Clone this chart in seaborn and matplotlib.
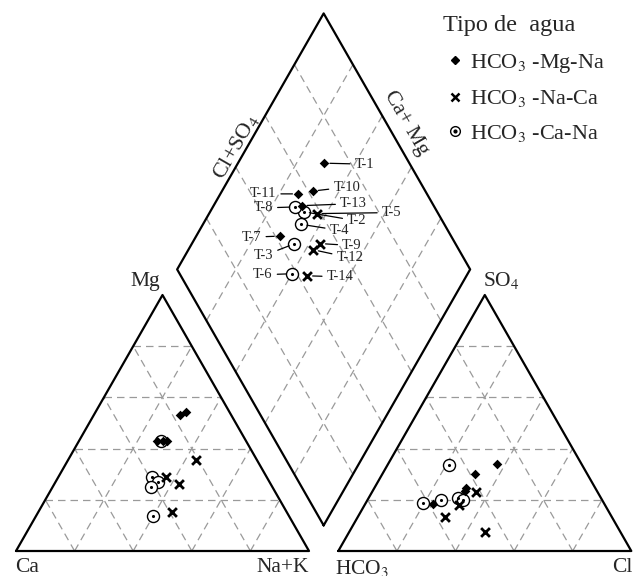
import numpy as np
import pandas as pd
import seaborn as sns
import matplotlib.pyplot as plt
from matplotlib.lines import Line2D

# muestras y tipo de agua
muestras = ['T-1', 'T-2', 'T-3', 'T-4', 'T-5', 'T-6', 'T-7',
            'T-8', 'T-9', 'T-10', 'T-11', 'T-12', 'T-13', 'T-14']
tipo = ['Mg-Na', 'Ca-Na', 'Ca-Na', 'Ca-Na', 'Na-Ca', 'Ca-Na', 'Mg-Na',
        'Ca-Na', 'Na-Ca', 'Mg-Na', 'Mg-Na', 'Na-Ca', 'Mg-Na', 'Na-Ca']

# cationes (% meq)
ca = [17.5, 39.0, 38.0, 41.4, 34.3, 46.3, 28.5, 28.9, 20.8, 14.7, 30.5, 31.3, 27.0, 39.2]
mg = [53.0, 29.0, 27.0, 25.0, 29.0, 13.7, 43.0, 43.0, 35.5, 54.3, 43.0, 26.2, 43.0, 15.2]
nak = [29.5, 32.0, 35.0, 33.6, 36.7, 40.0, 28.5, 28.1, 43.7, 31.0, 26.5, 42.5, 30.0, 45.6]

# aniones (% meq)
hco3 = [29.0, 45.5, 55.0, 48.8, 41.5, 61.7, 58.5, 47.5, 46.2, 38.4, 44.0, 49.8, 45.1, 56.9]
so4 = [34.0, 33.5, 20.0, 20.7, 23.0, 18.8, 18.4, 20.0, 7.4, 30.0, 24.6, 18.0, 23.4, 13.3]
cl = [37.0, 21.0, 25.0, 30.5, 35.5, 19.5, 23.1, 32.5, 46.4, 31.6, 31.4, 32.2, 31.5, 29.8]

# posicion de las etiquetas (pixeles respecto al punto)
offsets = {'T-1': (40, -1), 'T-2': (53, -9), 'T-3': (-31, -12), 'T-4': (38, -6),
           'T-5': (75, 1), 'T-6': (-29, -1), 'T-7': (-28, -1), 'T-8': (-32, -1),
           'T-9': (32, -2), 'T-10': (34, 4), 'T-11': (-35, 0), 'T-12': (37, -8),
           'T-13': (52, 2), 'T-14': (33, -1)}

sns.set_style('white')
plt.rcParams['font.family'] = ['Liberation Serif', 'DejaVu Serif']
plt.rcParams['mathtext.fontset'] = 'stix'

h = np.sqrt(3) / 2
gap = 0.1

df = pd.DataFrame({'muestra': muestras, 'tipo': tipo, 'Ca': ca, 'Mg': mg, 'NaK': nak,
                   'HCO3': hco3, 'SO4': so4, 'Cl': cl})
df['cx'] = df['NaK'] / 100 + df['Mg'] / 200
df['cy'] = df['Mg'] / 100 * h
df['ax_'] = 1 + gap + df['Cl'] / 100 + df['SO4'] / 200
df['ay'] = df['SO4'] / 100 * h
camg = (df['Ca'] + df['Mg']) / 100
clso4 = (df['Cl'] + df['SO4']) / 100
df['dx'] = 1 + gap / 2 + 0.5 * (clso4 - camg)
df['dy'] = gap * h + h * (clso4 + camg)

fig = plt.figure(figsize=(6.35, 5.76), dpi=100)
ax = fig.add_axes([0, 0, 1, 1])
ax.set_xlim(-16 / 293, 619 / 293)
ax.set_ylim(-25 / 295.6, 551 / 295.6)
ax.axis('off')

grid_kw = dict(color='#9a9a9a', lw=0.9, ls=(0, (6, 4)), zorder=1)


def tri(x0):
    P = lambda a, b: (x0 + a + b / 2, b * h)
    for k in [0.2, 0.4, 0.6, 0.8]:
        for p, q in [(P(0, k), P(1 - k, k)), (P(k, 0), P(k, 1 - k)), (P(1 - k, 0), P(0, 1 - k))]:
            ax.plot([p[0], q[0]], [p[1], q[1]], **grid_kw)
    ax.plot([x0, x0 + 1, x0 + 0.5, x0], [0, 0, h, 0], color='black', lw=1.6, zorder=2)


tri(0)
tri(1 + gap)

bx, by = 1 + gap / 2, gap * h
D = lambda u, v: (bx + 0.5 * (v - u), by + h * (u + v))
for k in [0.2, 0.4, 0.6, 0.8]:
    for p, q in [(D(k, 0), D(k, 1)), (D(0, k), D(1, k))]:
        ax.plot([p[0], q[0]], [p[1], q[1]], **grid_kw)
corners = [D(0, 0), D(1, 0), D(1, 1), D(0, 1), D(0, 0)]
ax.plot([c[0] for c in corners], [c[1] for c in corners], color='black', lw=1.6, zorder=2)

# puntos
for xcol, ycol in [('cx', 'cy'), ('ax_', 'ay'), ('dx', 'dy')]:
    sub = df[df['tipo'] == 'Ca-Na']
    sns.scatterplot(data=sub, x=xcol, y=ycol, marker='o', s=75, facecolor='white',
                    edgecolor='black', linewidth=1.0, zorder=3, ax=ax, legend=False)
    sns.scatterplot(data=sub, x=xcol, y=ycol, marker='o', s=5, color='black',
                    linewidth=0, zorder=4, ax=ax, legend=False)
    sub = df[df['tipo'] == 'Na-Ca']
    sns.scatterplot(data=sub, x=xcol, y=ycol, marker='x', s=40, color='black',
                    linewidth=2.0, zorder=5, ax=ax, legend=False)
    sub = df[df['tipo'] == 'Mg-Na']
    sns.scatterplot(data=sub, x=xcol, y=ycol, marker='D', s=24, color='black',
                    linewidth=0, zorder=6, ax=ax, legend=False)

for _, r in df.iterrows():
    ax.annotate(r['muestra'], xy=(r['dx'], r['dy']), xytext=offsets[r['muestra']],
                textcoords='offset pixels', ha='center', va='center', fontsize=10.5,
                arrowprops=dict(arrowstyle='-', color='black', lw=0.9, shrinkA=1, shrinkB=4))

# rotulos de los vertices
fs = 15.5
ax.text(0.5 - 0.01, h + 0.012, 'Mg', ha='right', va='bottom', fontsize=fs)
ax.text(1 + gap + 0.5 - 0.005, h + 0.012, 'SO$_4$', ha='left', va='bottom', fontsize=fs)
ax.text(-0.003, -0.025, 'Ca', ha='left', va='top', fontsize=fs)
ax.text(1.0, -0.025, 'Na+K', ha='right', va='top', fontsize=fs)
ax.text(1 + gap - 0.01, -0.025, 'HCO$_3$', ha='left', va='top', fontsize=fs)
ax.text(2 + gap + 0.005, -0.025, 'Cl', ha='right', va='top', fontsize=fs)

p = ((D(1, 0)[0] + D(1, 1)[0]) / 2, (D(1, 0)[1] + D(1, 1)[1]) / 2)
ax.text(p[0] - 0.051, p[1] - 0.019, 'Cl+SO$_4$', rotation=60, ha='center', va='center',
        fontsize=16, rotation_mode='anchor')
t = 0.43
q = (D(1, 1)[0] + t * (D(0, 1)[0] - D(1, 1)[0]), D(1, 1)[1] + t * (D(0, 1)[1] - D(1, 1)[1]))
ax.text(q[0] + 0.066, q[1], 'Ca+ Mg', rotation=-60, ha='center', va='center',
        fontsize=fs, rotation_mode='anchor')

# leyenda
ax.text(443 / 635, 1 - 26 / 576, 'Tipo de  agua', transform=ax.transAxes,
        ha='left', va='center', fontsize=17.5)
h_d = Line2D([], [], marker='D', ls='none', color='black', markersize=4)
h_x = Line2D([], [], marker='x', ls='none', color='black', markersize=6, mew=1.8)
h_o = Line2D([], [], marker='o', ls='none', mfc='white', mec='black', markersize=7, mew=1.0)
h_p = Line2D([], [], marker='o', ls='none', color='black', markersize=2)
leg = ax.legend([h_d, h_x, (h_o, h_p)],
                ['HCO$_3$ -Mg-Na', 'HCO$_3$ -Na-Ca', 'HCO$_3$ -Ca-Na'],
                loc='upper left', bbox_to_anchor=(446 / 635, 1 - 52 / 576),
                frameon=False, fontsize=16, handlelength=0.8,
                handletextpad=0.3, labelspacing=0.6, borderpad=0, borderaxespad=0)

fig.savefig('out.png', dpi=100)
